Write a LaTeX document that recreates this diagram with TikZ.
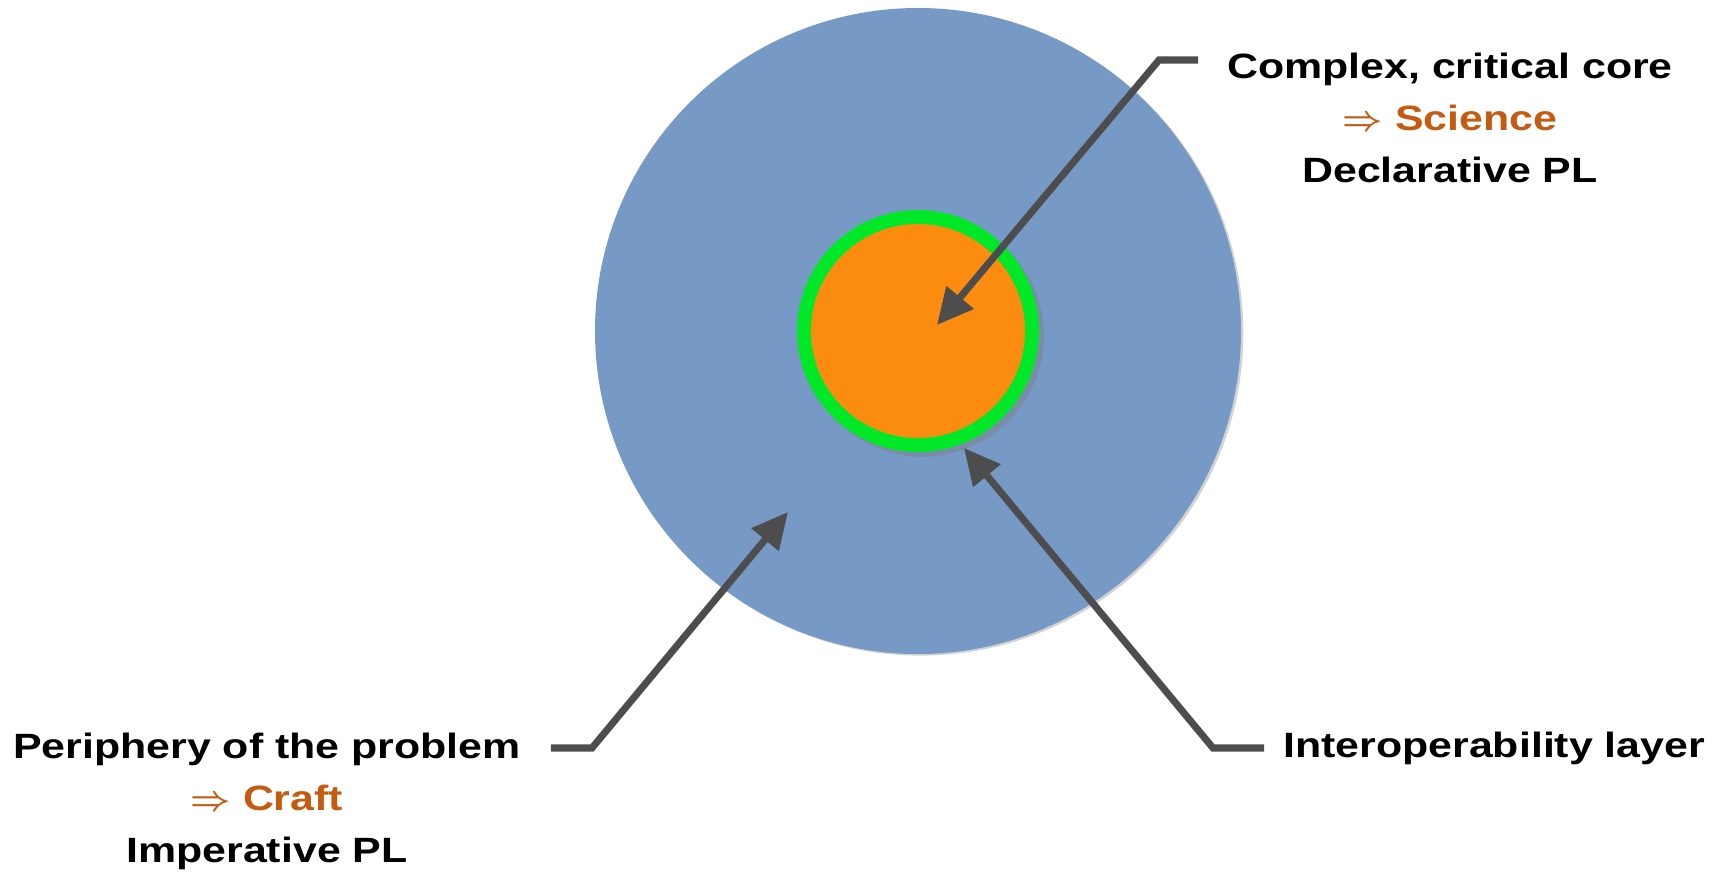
\documentclass[tikz,border=0pt]{standalone}
\usepackage{fontspec}
\setmainfont[FakeStretch=1.22]{Liberation Sans}
\usepackage{amssymb}
\usepackage{xcolor}
\usepackage{tikz}
\usetikzlibrary{arrows.meta, positioning, shadows}
\definecolor{outerblue}{RGB}{118,153,198}
\definecolor{coreorange}{RGB}{252,140,16}
\definecolor{ringgreen}{RGB}{0,232,40}
\definecolor{arrowgray}{RGB}{77,77,77}
\definecolor{accent}{RGB}{197,90,17}
\newcommand{\impl}{{\fontsize{30}{37}\selectfont\boldmath$\Rightarrow$}}

\begin{document}
\begin{tikzpicture}[
      disc/.style={circle, fill=#1, inner sep=0pt},
      lbl/.style={align=center, font=\fontsize{25}{37}\selectfont\bfseries},
      arr/.style={-{Triangle[length=0.9cm, width=0.85cm]}, line width=5pt,
                  draw=arrowgray, line join=miter}
  ]
    \useasboundingbox (-22.95,-13.625) rectangle (20.1,8.275);

    % circles
    \node[disc=outerblue, minimum size=16.15cm,
          drop shadow={shadow xshift=0.06cm, shadow yshift=-0.04cm, opacity=0.35}] (outer) at (0,0) {};
    \node[disc=ringgreen, minimum size=6.05cm,
          drop shadow={shadow xshift=0.12cm, shadow yshift=-0.12cm, opacity=0.45}] (ring) at (0,0) {};
    \node[disc=coreorange, minimum size=5.35cm] (core) at (0,0) {};

    % labels
    \node[lbl] (corelbl) at (13.3,5.33)
      {Complex, critical core\\{\color{accent}\impl\ Science}\\Declarative PL};
    \node[lbl] (perilbl) at (-16.275,-11.77)
      {Periphery of the problem\\{\color{accent}\impl\ Craft}\\Imperative PL};
    \node[lbl, anchor=west, inner sep=0pt] (interlbl) at (9.125,-10.425)
      {Interoperability layer};

    % connector points
    \coordinate (coreend)   at (7.0,6.775);
    \coordinate (corebend)  at (6.025,6.775);
    \coordinate (coretip)   at (0.475,0.15);
    \coordinate (periend)   at (-9.175,-10.425);
    \coordinate (peribend)  at (-8.15,-10.425);
    \coordinate (peritip)   at (-3.25,-4.525);
    \coordinate (interend)  at (8.65,-10.425);
    \coordinate (interbend) at (7.375,-10.425);
    \coordinate (intertip)  at (1.15,-2.925);

    \draw[arr] (coreend)  -- (corebend)  -- (coretip);
    \draw[arr] (periend)  -- (peribend)  -- (peritip);
    \draw[arr] (interend) -- (interbend) -- (intertip);
  \end{tikzpicture}
\end{document}
